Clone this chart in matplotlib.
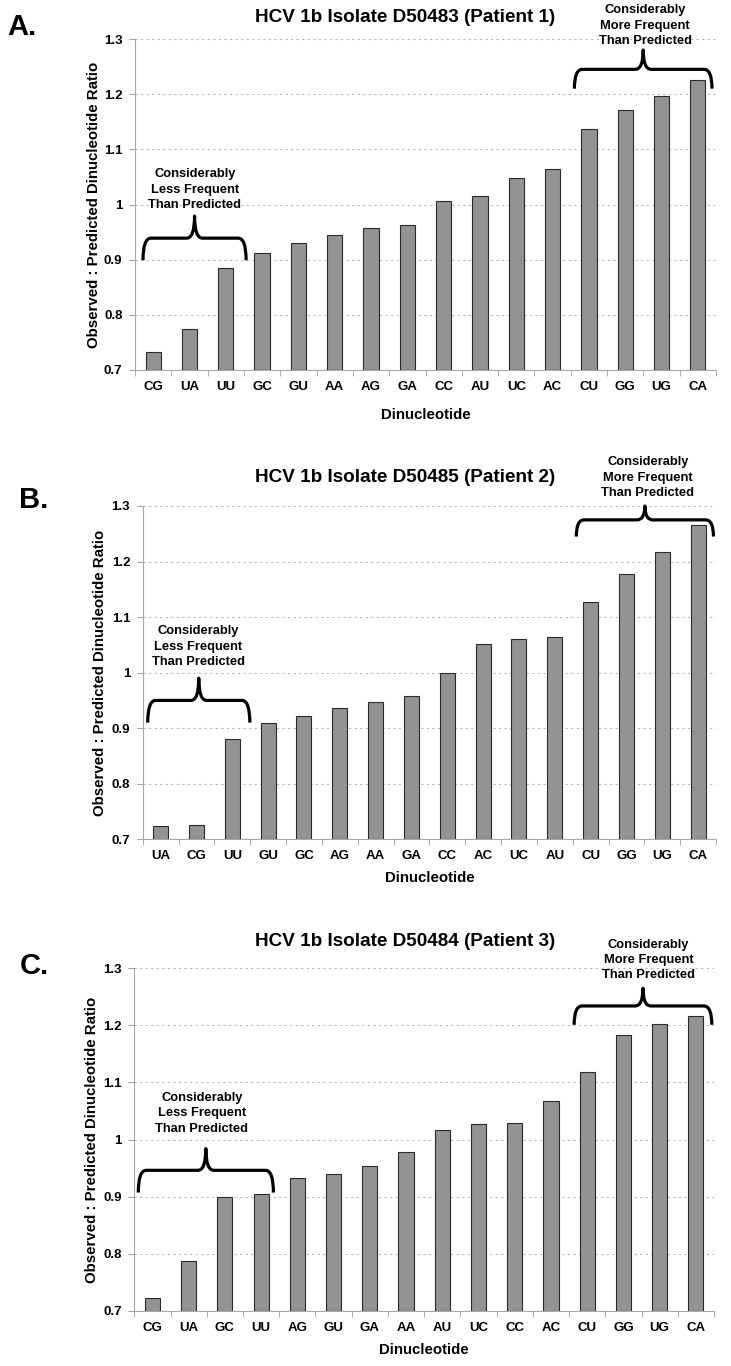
import numpy as np
import matplotlib
matplotlib.use("Agg")
import matplotlib.pyplot as plt
from matplotlib.path import Path
from matplotlib.patches import PathPatch

plt.rcParams['font.family'] = ['Liberation Sans', 'DejaVu Sans']
plt.rcParams['font.weight'] = 'bold'

# Panel A - Patient 1
labels_a = ['CG', 'UA', 'UU', 'GC', 'GU', 'AA', 'AG', 'GA', 'CC', 'AU', 'UC', 'AC', 'CU', 'GG', 'UG', 'CA']
values_a = [0.732, 0.774, 0.884, 0.912, 0.931, 0.945, 0.957, 0.962, 1.007, 1.015, 1.048, 1.064, 1.136, 1.171, 1.196, 1.226]

# Panel B - Patient 2
labels_b = ['UA', 'CG', 'UU', 'GU', 'GC', 'AG', 'AA', 'GA', 'CC', 'AC', 'UC', 'AU', 'CU', 'GG', 'UG', 'CA']
values_b = [0.724, 0.725, 0.880, 0.910, 0.922, 0.936, 0.948, 0.958, 1.000, 1.052, 1.061, 1.065, 1.127, 1.178, 1.217, 1.266]

# Panel C - Patient 3
labels_c = ['CG', 'UA', 'GC', 'UU', 'AG', 'GU', 'GA', 'AA', 'AU', 'UC', 'CC', 'AC', 'CU', 'GG', 'UG', 'CA']
values_c = [0.722, 0.787, 0.900, 0.904, 0.932, 0.940, 0.954, 0.978, 1.016, 1.027, 1.029, 1.067, 1.119, 1.183, 1.202, 1.216]

titles = ['HCV 1b Isolate D50483 (Patient 1)',
          'HCV 1b Isolate D50485 (Patient 2)',
          'HCV 1b Isolate D50484 (Patient 3)']
panel_tags = ['A.', 'B.', 'C.']

less_txt = 'Considerably\nLess Frequent\nThan Predicted'
more_txt = 'Considerably\nMore Frequent\nThan Predicted'

W, H = 731, 1366
fig = plt.figure(figsize=(W / 100, H / 100), dpi=100)


def brace(ax, x0, x1, yb, yt, ytip, dx=0.22, dxm=0.22):
    xm = (x0 + x1) / 2
    verts = [(x0, yb), (x0, yt), (x0 + dx, yt),
             (xm - dxm, yt),
             (xm, yt), (xm, ytip),
             (xm, yt), (xm + dxm, yt),
             (x1 - dx, yt),
             (x1, yt), (x1, yb)]
    codes = [Path.MOVETO, Path.CURVE3, Path.CURVE3,
             Path.LINETO,
             Path.CURVE3, Path.CURVE3,
             Path.CURVE3, Path.CURVE3,
             Path.LINETO,
             Path.CURVE3, Path.CURVE3]
    p = PathPatch(Path(verts, codes), fill=False, lw=2.3, color='black',
                  clip_on=False, capstyle='butt', joinstyle='round')
    ax.add_patch(p)


# per panel layout (pixels): left, right, top, bottom
boxes = [(135, 716, 39, 370), (142.7, 716, 506, 839.3), (134.3, 714, 968.3, 1310.7)]
title_y = [18, 478, 941]
tag_pos = [(22, 27), (34, 500), (34, 966)]
ylab_x = [-0.058, -0.062, -0.061]
xlab_y = [-0.115, -0.095, -0.094]

# brace geometry: (x0, x1, yb, yt, ytip, text_x, text_y)
left_braces = [(-0.28, 2.56, 0.899, 0.939, 0.979, 1.15, 1.027),
               (-0.36, 2.49, 0.910, 0.950, 0.990, 1.05, 1.047),
               (-0.39, 3.34, 0.907, 0.946, 0.984, 1.36, 1.046)]
right_braces = [(11.6, 15.39, 1.210, 1.245, 1.280, 13.55, 1.324),
                (11.6, 15.43, 1.245, 1.275, 1.300, 13.6, 1.351),
                (11.64, 15.44, 1.201, 1.234, 1.265, 13.69, 1.3145)]

all_labels = [labels_a, labels_b, labels_c]
all_values = [values_a, values_b, values_c]

for i in range(3):
    l, r, t, b = boxes[i]
    ax = fig.add_axes([l / W, 1 - b / H, (r - l) / W, (b - t) / H])
    x = np.arange(len(all_labels[i]))
    ax.bar(x, np.array(all_values[i]) - 0.7, bottom=0.7, width=0.42,
           color='#939393', edgecolor='#2a2a2a', linewidth=0.8, zorder=3)
    ax.set_xlim(-0.5, len(x) - 0.5)
    ax.set_ylim(0.7, 1.3)
    ax.set_yticks(np.arange(0.7, 1.31, 0.1))
    ax.set_yticklabels(['0.7', '0.8', '0.9', '1', '1.1', '1.2', '1.3'], fontsize=9.5, fontweight='bold')
    ax.set_xticks(x)
    ax.set_xticklabels(all_labels[i], fontsize=9.5, fontweight='bold')
    ax.set_xticks(np.arange(-0.5, len(x), 1), minor=True)
    ax.tick_params(axis='x', which='major', length=0, pad=8)
    ax.tick_params(axis='x', which='minor', length=4, color='#a0a0a0', direction='out')
    ax.tick_params(axis='y', length=4, color='#a0a0a0', pad=5)
    for s in ['top', 'right']:
        ax.spines[s].set_visible(False)
    ax.spines['left'].set_color('#a8a8a8')
    ax.spines['bottom'].set_color('#a8a8a8')
    ax.yaxis.grid(True, linestyle=(0, (2, 3)), color='#b8b8b8', linewidth=0.8, zorder=0)
    ax.set_axisbelow(True)

    ax.set_ylabel('Observed : Predicted Dinucleotide Ratio', fontsize=10.8, fontweight='bold')
    ax.yaxis.set_label_coords(ylab_x[i], 0.5)
    ax.set_xlabel('Dinucleotide', fontsize=10.8, fontweight='bold')
    ax.xaxis.set_label_coords(0.5, xlab_y[i])

    x0, x1, yb, yt, ytip, tx, ty = left_braces[i]
    brace(ax, x0, x1, yb, yt, ytip)
    ax.text(tx, ty, less_txt, ha='center', va='center', fontsize=9.3,
            fontweight='bold', linespacing=1.38, clip_on=False)
    x0, x1, yb, yt, ytip, tx, ty = right_braces[i]
    brace(ax, x0, x1, yb, yt, ytip)
    ax.text(tx, ty, more_txt, ha='center', va='center', fontsize=9.3,
            fontweight='bold', linespacing=1.38, clip_on=False)

    fig.text(405 / W, 1 - title_y[i] / H, titles[i], ha='center', va='center',
             fontsize=13.6, fontweight='bold')
    fig.text(tag_pos[i][0] / W, 1 - tag_pos[i][1] / H, panel_tags[i], ha='center',
             va='center', fontsize=21, fontweight='bold')

fig.savefig('out.png', dpi=100)
